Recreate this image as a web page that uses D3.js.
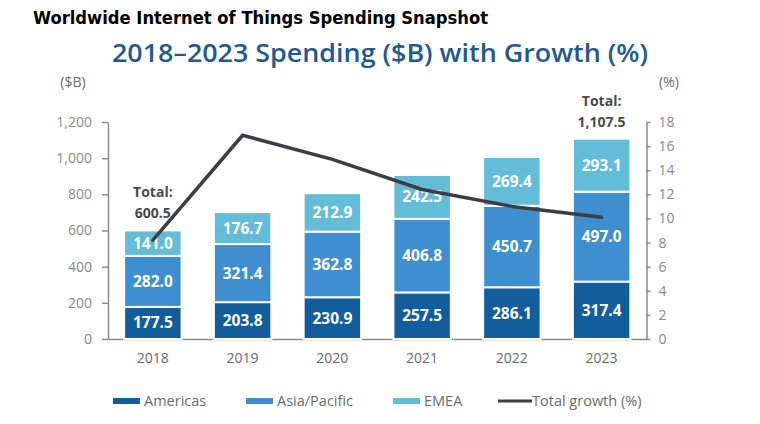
<!DOCTYPE html>
<html>
<head>
<meta charset="utf-8">
<script src="https://cdn.jsdelivr.net/npm/d3@7"></script>
<style>
  body { margin: 0; background: #fff; }
  svg { display: block; }
</style>
</head>
<body>
<div id="chart"></div>
<script>
// Chart data
const years = ["2018", "2019", "2020", "2021", "2022", "2023"];
const americas = [177.5, 203.8, 230.9, 257.5, 286.1, 317.4];
const asiaPacific = [282.0, 321.4, 362.8, 406.8, 450.7, 497.0];
const emea = [141.0, 176.7, 212.9, 242.5, 269.4, 293.1];
const growth = [8.2, 16.9, 14.9, 12.4, 11.0, 10.1];
const spendTicks = [0, 200, 400, 600, 800, 1000, 1200];
const growthTicks = [0, 2, 4, 6, 8, 10, 12, 14, 16, 18];
const seriesNames = ["Americas", "Asia/Pacific", "EMEA"];
const totalLabelYears = ["2018", "2023"];

const colors = {"Americas": "#125d9c", "Asia/Pacific": "#3f8ecf", "EMEA": "#64bdd8"};
const lineColor = "#3b3e43";
const axisColor = "#8c8c8c";
const fontFamily = "'Open Sans', 'Noto Sans', sans-serif";

const width = 760, height = 424;
const plot = {left: 108, right: 646.5, top: 122, bottom: 339};

// table for the stack layout
const table = years.map((year, i) => ({
  year: year,
  "Americas": americas[i],
  "Asia/Pacific": asiaPacific[i],
  "EMEA": emea[i]
}));
const stacked = d3.stack().keys(seriesNames)(table);

const svg = d3.select("#chart").append("svg")
  .attr("width", width)
  .attr("height", height)
  .attr("viewBox", `0 0 ${width} ${height}`);

svg.append("rect").attr("width", width).attr("height", height).attr("fill", "#fff");

// Titles
svg.append("text")
  .attr("x", 33).attr("y", 24)
  .attr("textLength", 455).attr("lengthAdjust", "spacingAndGlyphs")
  .style("font-family", "'DejaVu Sans', sans-serif")
  .style("font-stretch", "condensed")
  .style("font-weight", "bold")
  .style("font-size", "18px")
  .attr("fill", "#000")
  .text("Worldwide Internet of Things Spending Snapshot");

svg.append("text")
  .attr("x", 112).attr("y", 62)
  .attr("textLength", 536).attr("lengthAdjust", "spacingAndGlyphs")
  .style("font-family", fontFamily)
  .style("font-weight", 600)
  .style("font-size", "25px")
  .attr("fill", "#1f5a8f")
  .text("2018\u20132023 Spending ($B) with Growth (%)");

// Scales
const xScale = d3.scaleBand()
  .domain(years)
  .range([plot.left, plot.right])
  .paddingInner(0.36)
  .paddingOuter(0.18);
const yScale = d3.scaleLinear().domain([0, 1200]).range([plot.bottom, plot.top]);
const yRight = d3.scaleLinear().domain([0, 18]).range([plot.bottom, plot.top]);

// Axes
const leftAxis = svg.append("g")
  .attr("transform", `translate(${plot.left},0)`)
  .call(d3.axisLeft(yScale).tickValues(spendTicks).tickFormat(d3.format(",")).tickSize(6).tickSizeOuter(0).tickPadding(10));
const rightAxis = svg.append("g")
  .attr("transform", `translate(${plot.right},0)`)
  .call(d3.axisRight(yRight).tickValues(growthTicks).tickSize(4).tickSizeOuter(0).tickPadding(8));
const bottomAxis = svg.append("g")
  .attr("transform", `translate(0,${plot.bottom})`)
  .call(d3.axisBottom(xScale).tickSize(0).tickSizeOuter(0).tickPadding(14));

[leftAxis, rightAxis, bottomAxis].forEach(axis => {
  axis.selectAll("path.domain").attr("stroke", axisColor).attr("stroke-width", 1.5);
  axis.selectAll(".tick line").attr("stroke", axisColor).attr("stroke-width", 1.5);
  axis.selectAll(".tick text")
    .style("font-family", fontFamily)
    .style("font-size", "14px")
    .attr("fill", "#8a8a8a");
});
bottomAxis.selectAll(".tick text").attr("fill", "#6b6b6b");

// unit labels
svg.append("text")
  .attr("x", 73).attr("y", 87)
  .attr("text-anchor", "middle")
  .style("font-family", fontFamily).style("font-size", "14px")
  .attr("fill", "#6b6b6b")
  .text("($B)");
svg.append("text")
  .attr("x", 669).attr("y", 87)
  .attr("text-anchor", "middle")
  .style("font-family", fontFamily).style("font-size", "14px")
  .attr("fill", "#6b6b6b")
  .text("(%)");

// Stacked bars
const layers = svg.append("g").selectAll("g")
  .data(stacked)
  .join("g")
  .attr("fill", d => colors[d.key]);

layers.selectAll("rect")
  .data(d => d)
  .join("rect")
  .attr("x", d => xScale(d.data.year))
  .attr("y", d => yScale(d[1]))
  .attr("width", xScale.bandwidth())
  .attr("height", d => yScale(d[0]) - yScale(d[1]))
  .attr("stroke", "#fff")
  .attr("stroke-width", 2);

// value labels in bars
layers.selectAll("text")
  .data(d => d)
  .join("text")
  .attr("x", d => xScale(d.data.year) + xScale.bandwidth() / 2)
  .attr("y", d => (yScale(d[0]) + yScale(d[1])) / 2 + 5.5)
  .attr("text-anchor", "middle")
  .style("font-family", fontFamily)
  .style("font-weight", "bold")
  .style("font-size", "15.5px")
  .attr("fill", "#fff")
  .text(d => d3.format(".1f")(d[1] - d[0]));

// total labels
const lastLayer = stacked[stacked.length - 1];
const totalGroup = svg.append("g");
lastLayer.filter(d => totalLabelYears.includes(d.data.year)).forEach(d => {
  let cx = xScale(d.data.year) + xScale.bandwidth() / 2;
  let top = yScale(d[1]);
  let label = totalGroup.append("text")
    .attr("text-anchor", "middle")
    .style("font-family", fontFamily)
    .style("font-weight", "bold")
    .style("font-size", "14px")
    .attr("fill", "#4a4a4a");
  label.append("tspan").attr("x", cx).attr("y", top - 33).text("Total:");
  label.append("tspan").attr("x", cx).attr("y", top - 12).text(d3.format(",.1f")(d[1]));
});

// Growth line
let line = d3.line()
  .x((d, i) => xScale(years[i]) + xScale.bandwidth() / 2)
  .y(d => yRight(d));
svg.append("path")
  .attr("d", line(growth))
  .attr("fill", "none")
  .attr("stroke", lineColor)
  .attr("stroke-width", 3.5)
  .attr("stroke-linejoin", "round")
  .attr("stroke-linecap", "round");

// Legend
const legendItems = [
  {name: "Americas", x: 113, type: "bar"},
  {name: "Asia/Pacific", x: 246, type: "bar"},
  {name: "EMEA", x: 393, type: "bar"},
  {name: "Total growth (%)", x: 498, type: "line"}
];
const legendY = 401;
const legend = svg.append("g");
legendItems.forEach(item => {
  legend.append("rect")
    .attr("x", item.x)
    .attr("y", item.type === "bar" ? legendY - 3 : legendY - 1.5)
    .attr("width", item.type === "bar" ? 27 : 34)
    .attr("height", item.type === "bar" ? 6 : 3)
    .attr("fill", item.type === "bar" ? colors[item.name] : lineColor);
  legend.append("text")
    .attr("x", item.x + (item.type === "bar" ? 31 : 34))
    .attr("y", legendY + 5)
    .style("font-family", fontFamily)
    .style("font-size", "14.5px")
    .attr("fill", "#6b6b6b")
    .text(item.name);
});
</script>
</body>
</html>
